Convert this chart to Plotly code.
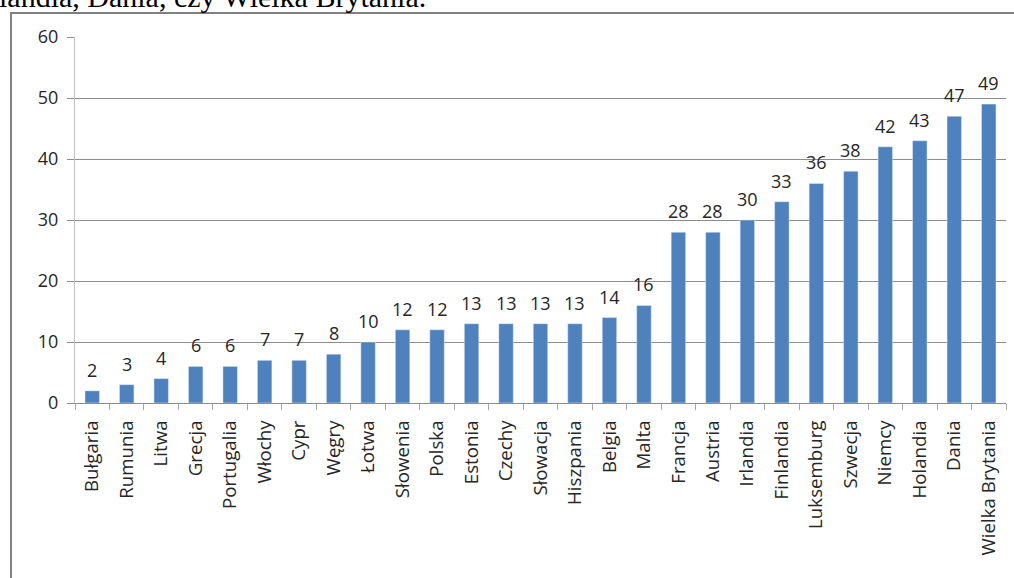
import plotly.graph_objects as go

categories = ["Bułgaria", "Rumunia", "Litwa", "Grecja", "Portugalia", "Włochy", "Cypr",
              "Węgry", "Łotwa", "Słowenia", "Polska", "Estonia", "Czechy", "Słowacja",
              "Hiszpania", "Belgia", "Malta", "Francja", "Austria", "Irlandia", "Finlandia",
              "Luksemburg", "Szwecja", "Niemcy", "Holandia", "Dania", "Wielka Brytania"]
values = [2, 3, 4, 6, 6, 7, 7, 8, 10, 12, 12, 13, 13, 13, 13, 14, 16, 28, 28, 30, 33,
          36, 38, 42, 43, 47, 49]
y_ticks = [0, 10, 20, 30, 40, 50, 60]

W, H = 1014, 578
L, R, T, B = 75, 8, 37, 175
pw, ph = W - L - R, H - T - B

def px_x(p):
    return (p - L) / pw

def px_y(p):
    return (H - B - p) / ph

font = "Open Sans, sans-serif"
txt = "#262626"

fig = go.Figure(go.Bar(x=categories, y=values, marker_color="#4F81BD", width=0.42))

for c, v in zip(categories, values):
    fig.add_annotation(x=c, y=v, text=str(v), showarrow=False, yanchor="bottom",
                       yshift=7, font=dict(family=font, size=18, color=txt))

fig.update_layout(
    width=W, height=H, margin=dict(l=L, r=R, t=T, b=B),
    paper_bgcolor="white", plot_bgcolor="white", showlegend=False,
    font=dict(family=font, size=16, color=txt),
    xaxis=dict(tickangle=-90, showgrid=False, showline=True, linecolor="#8c8c8c",
               linewidth=1, ticks="outside", tickson="boundaries", ticklen=6,
               tickcolor="#a6a6a6", ticklabelstandoff=9,
               tickfont=dict(family=font, size=18.7, color=txt)),
    yaxis=dict(range=[0, 60], tickvals=y_ticks, showgrid=True, gridcolor="#8c8c8c",
               gridwidth=1, showline=True, linecolor="#bfbfbf", linewidth=1,
               ticks="outside", ticklen=7, tickcolor="#8c8c8c", zeroline=False,
               ticklabelstandoff=5,
               tickfont=dict(family=font, size=18, color=txt)),
)

fig.add_shape(type="rect", xref="paper", yref="paper",
              x0=px_x(11), x1=px_x(1030), y0=px_y(600), y1=px_y(13),
              line=dict(color="#808080", width=2), fillcolor="rgba(0,0,0,0)", layer="above")

fig.add_annotation(text="landia, Dania, czy Wielka Brytania.", xref="paper", yref="paper",
                   x=px_x(-3), y=px_y(15), xanchor="left", yanchor="bottom",
                   showarrow=False, font=dict(family="Liberation Serif", size=30, color="black"))

fig.write_html("out.html", config={"displayModeBar": False},
               post_script="document.body.style.margin='0';")
